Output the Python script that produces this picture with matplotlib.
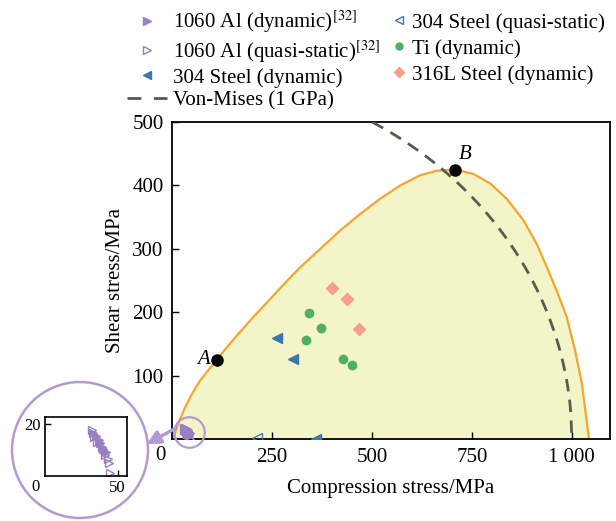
import numpy as np
import matplotlib
matplotlib.use("Agg")
import matplotlib.pyplot as plt
from matplotlib.lines import Line2D
from matplotlib.patches import Ellipse

plt.rcParams['font.family'] = ['Liberation Serif', 'DejaVu Serif']
plt.rcParams['mathtext.fontset'] = 'stix'

# yield envelope (orange)
env_x = [4, 10, 20, 33, 50, 70, 90, 112, 135, 162, 200, 237, 262, 287, 321,
         371, 421, 471, 521, 571, 621, 662, 707, 754, 796, 837, 879, 912,
         941, 962, 987, 1008, 1025, 1043]
env_y = [0, 14, 31, 50, 71, 92, 108, 125, 143, 163, 190, 215, 232, 249, 271,
         300, 329, 355, 379, 400, 416, 423, 425, 418, 403, 379, 345, 308,
         266, 234, 193, 140, 88, 0]

# scatter data
al_dyn_x = [33, 35, 37, 38, 40, 42]
al_dyn_y = [16.5, 15.5, 14, 12.5, 10.5, 9]
al_qs_x = [32, 34, 36, 39, 41, 43, 44, 45]
al_qs_y = [17.5, 15, 13, 11, 8, 6.5, 5, 1]
st_dyn_x = [262, 302, 361]
st_dyn_y = [160, 126, 1]
st_qs_x = [212]
st_qs_y = [2]
ti_x = [344, 372, 336, 427, 451]
ti_y = [199, 175, 156, 126, 117]
ss_x = [401, 439, 469]
ss_y = [238, 221, 173]
pt_A = (112, 125)
pt_B = (707, 425)
von_mises = 1000  # MPa

purple = '#9a7fc2'
blue = '#3b78b0'
green = '#4fb062'
salmon = '#f4a08c'
orange = '#f5a62e'
dash_c = '#585c4c'
ring = '#b49ad2'

fig = plt.figure(figsize=(6.16, 5.21), dpi=100)
ax = fig.add_axes([0.279, 0.157, 0.711, 0.609])

ax.fill_between(env_x, env_y, color='#f3f5c8', zorder=0)
ax.plot(env_x, env_y, color=orange, lw=1.6, zorder=2)

s = np.linspace(0, von_mises, 400)
ax.plot(s, np.sqrt((von_mises**2 - s**2) / 3), color=dash_c, lw=2,
        ls=(0, (4.5, 3)), zorder=3)

ax.plot(al_dyn_x, al_dyn_y, '>', color=purple, ms=7, zorder=4)
ax.plot(al_qs_x, al_qs_y, '>', mfc='none', mec=purple, ms=6, zorder=4)
ax.plot(st_dyn_x, st_dyn_y, '<', color=blue, ms=7, zorder=4)
ax.plot(st_qs_x, st_qs_y, '<', mfc='none', mec=blue, ms=7, zorder=4)
ax.plot(ti_x, ti_y, 'o', color=green, ms=6, zorder=4)
ax.plot(ss_x, ss_y, 'D', color=salmon, ms=6, zorder=4)
ax.plot(*pt_A, 'o', color='black', ms=8, zorder=5)
ax.plot(*pt_B, 'o', color='black', ms=8, zorder=5)
ax.text(pt_A[0] - 18, pt_A[1], 'A', style='italic', fontsize=15,
        ha='right', va='center')
ax.text(pt_B[0] + 10, pt_B[1] + 8, 'B', style='italic', fontsize=15,
        ha='left', va='bottom')

# ring round the Al cluster
ax.plot(44, 12, 'o', ms=22, mfc='none', mec=ring, mew=1.6, zorder=6,
        clip_on=False)

ax.set_xlim(0, 1095)
ax.set_ylim(0, 500)
ax.set_xticks([250, 500, 750, 1000])
ax.set_xticklabels(['250', '500', '750', '1 000'])
ax.set_yticks([100, 200, 300, 400, 500])
ax.tick_params(direction='in', length=5, width=1, labelsize=15, pad=6)
for sp in ax.spines.values():
    sp.set_linewidth(1.3)
ax.set_xlabel('Compression stress/MPa', fontsize=15, labelpad=9)
ax.set_ylabel('Shear stress/MPa', fontsize=15, labelpad=5)
fig.text(160 / 616, 1 - 455 / 521, '0', fontsize=15, ha='center',
         va='center')

# inset
ins = fig.add_axes([45 / 616, 1 - 475.7 / 521, 82.3 / 616, 58.4 / 521])
ins.plot(al_dyn_x, al_dyn_y, '>', color=purple, ms=6)
ins.plot(al_qs_x, al_qs_y, '>', mfc='none', mec=purple, ms=6)
ins.set_xlim(0, 56.6)
ins.set_ylim(0, 22.6)
ins.set_xticks([50])
ins.set_yticks([20])
ins.tick_params(direction='in', length=4, width=1, labelsize=12, pad=3)
for sp in ins.spines.values():
    sp.set_linewidth(1.2)
fig.text(36 / 616, 1 - 487 / 521, '0', fontsize=12, ha='center',
         va='center')

fig.add_artist(Ellipse((80 / 616, 1 - 450 / 521), 136 / 616, 136 / 521,
                       transform=fig.transFigure, fill=False, ec=ring,
                       lw=1.8))
fig.add_artist(plt.annotate('', xy=(147, 521 - 444), xycoords='figure pixels',
                            xytext=(176, 521 - 428), textcoords='figure pixels',
                            arrowprops=dict(arrowstyle='-|>', color=ring,
                                            lw=2.2, mutation_scale=20,
                                            shrinkA=0, shrinkB=0)))

# legends
h1 = [Line2D([], [], ls='none', marker='>', color=purple, ms=6),
      Line2D([], [], ls='none', marker='>', mfc='none', mec=purple, ms=6),
      Line2D([], [], ls='none', marker='<', color=blue, ms=6),
      Line2D([], [], color=dash_c, lw=2, ls=(0, (5, 4.5)))]
l1 = ['1060 Al (dynamic)$^{[32]}$', '1060 Al (quasi-static)$^{[32]}$',
      '304 Steel (dynamic)', 'Von-Mises (1 GPa)']
h2 = [Line2D([], [], ls='none', marker='<', mfc='none', mec=blue, ms=6),
      Line2D([], [], ls='none', marker='o', color=green, ms=5),
      Line2D([], [], ls='none', marker='D', color=salmon, ms=5)]
l2 = ['304 Steel (quasi-static)', 'Ti (dynamic)', '316L Steel (dynamic)']
fig.legend(h1, l1, loc='upper left', frameon=False, fontsize=15,
           handlelength=1.9, handletextpad=0.3, labelspacing=0.15,
           borderpad=0, borderaxespad=0,
           bbox_to_anchor=(127 / 616, 1 - 9 / 521))
fig.legend(h2, l2, loc='upper left', frameon=False, fontsize=15,
           handlelength=0.8, handletextpad=0.2, labelspacing=0.3,
           borderpad=0, borderaxespad=0,
           bbox_to_anchor=(391 / 616, 1 - 13 / 521))

fig.savefig('out.png', dpi=100)
